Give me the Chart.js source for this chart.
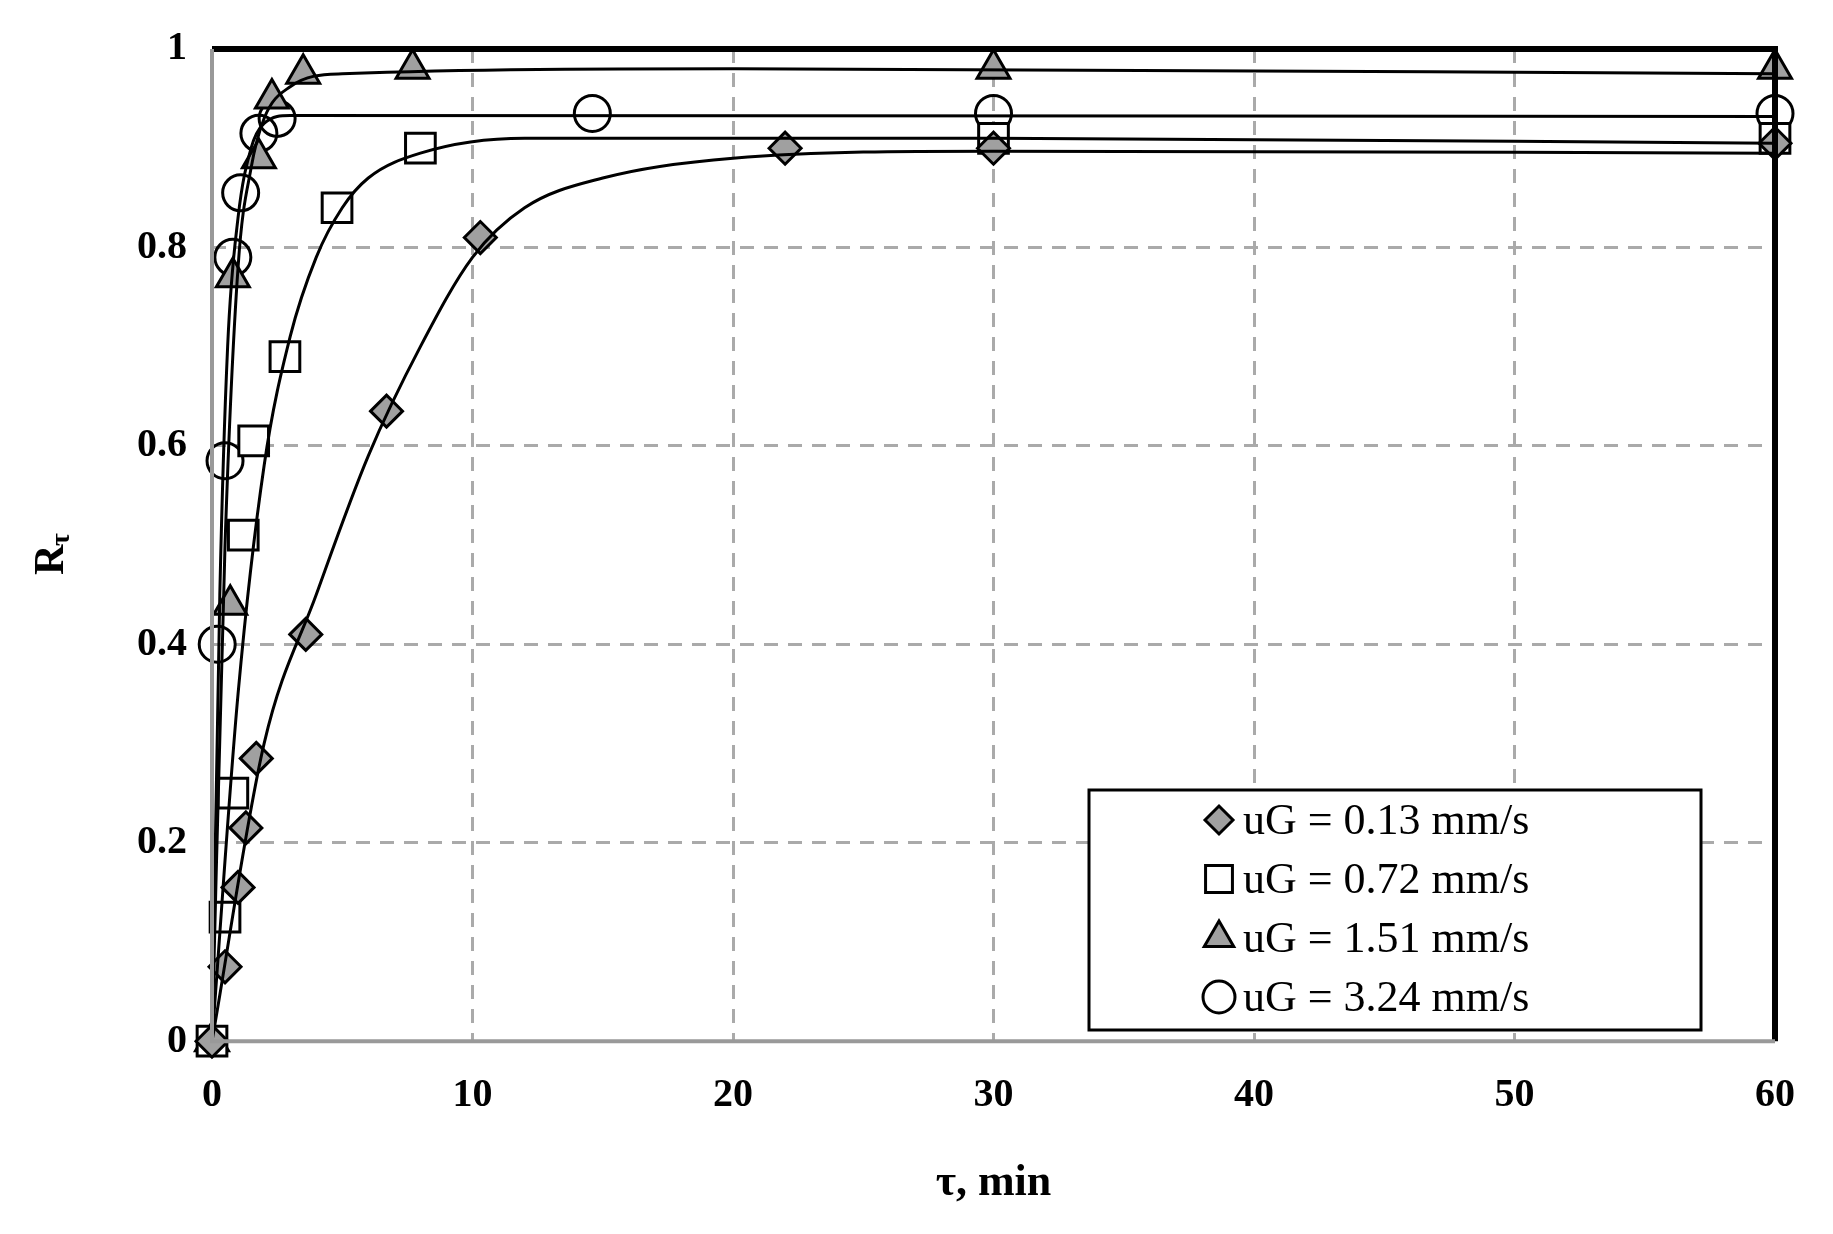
<!DOCTYPE html>
<html><head><meta charset="utf-8">
<script src="https://cdn.jsdelivr.net/npm/chart.js@4.4.1/dist/chart.umd.min.js"></script>
<style>html,body{margin:0;background:#fff}#wrap{width:1833px;height:1234px}</style>
</head><body><div id="wrap"><canvas id="c"></canvas></div>
<script>
const xTicks = [0, 10, 20, 30, 40, 50, 60];
const yTicks = [0, 0.2, 0.4, 0.6, 0.8, 1];
const seriesNames = ['uG = 0.13 mm/s', 'uG = 0.72 mm/s', 'uG = 1.51 mm/s', 'uG = 3.24 mm/s'];

// measured points
const ptsA = [[0,0],[0.5,0.075],[1,0.155],[1.3,0.215],[1.7,0.285],[3.6,0.41],[6.7,0.635],[10.3,0.81],[22,0.9],[30,0.9],[60,0.905]];
const ptsB = [[0,0],[0.5,0.125],[0.8,0.25],[1.2,0.51],[1.6,0.605],[2.8,0.69],[4.8,0.84],[8,0.9],[30,0.91],[60,0.91]];
const ptsC = [[0,0],[0.7,0.44],[0.8,0.77],[1.8,0.89],[2.3,0.95],[3.5,0.975],[7.7,0.98],[30,0.98],[60,0.98]];
const ptsD = [[0.2,0.4],[0.5,0.585],[0.8,0.79],[1.1,0.855],[1.8,0.915],[2.5,0.93],[14.6,0.935],[30,0.935],[60,0.935]];

// fitted curves
const fitA = [[0,0],[2,0.3],[4,0.45],[6,0.59],[8,0.7],[10,0.79],[12,0.84],[15,0.87],[20,0.89],[30,0.897],[60,0.895]];
const fitB = [[0,0],[1,0.35],[2,0.58],[3,0.71],[4,0.79],[5,0.84],[6,0.87],[8,0.895],[12,0.91],[30,0.91],[60,0.905]];
const fitC = [[0,0],[0.5,0.5],[1,0.78],[1.5,0.88],[2,0.93],[3,0.962],[5,0.975],[20,0.98],[60,0.975]];
const fitD = [[0,0],[0.3,0.45],[0.6,0.7],[1,0.83],[1.5,0.9],[2,0.925],[3,0.933],[60,0.932]];

const toXY = a => a.map(([x, y]) => ({x, y}));
const styles = [
  {pointStyle: 'rectRot', radius: 16, bg: '#a0a0a0'},
  {pointStyle: 'rect', radius: 21, bg: '#fff'},
  {pointStyle: 'triangle', radius: 19, bg: '#a0a0a0'},
  {pointStyle: 'circle', radius: 18, bg: 'rgba(255,255,255,0)'}
];
const fits = [fitA, fitB, fitC, fitD];
const pts = [ptsA, ptsB, ptsC, ptsD];

const datasets = [];
fits.forEach(f => datasets.push({data: toXY(f), showLine: true, borderColor: '#000', borderWidth: 3, pointRadius: 0, cubicInterpolationMode: 'monotone', fill: false}));
pts.forEach((p, i) => datasets.push({data: toXY(p), showLine: false, clip: false, pointStyle: styles[i].pointStyle, pointRadius: styles[i].radius,
  pointBackgroundColor: styles[i].bg, pointBorderColor: '#000', pointBorderWidth: 3}));

const frame = {
  id: 'frame',
  afterDraw(chart) {
    const {ctx, chartArea: a} = chart;
    ctx.save();
    ctx.lineWidth = 6; ctx.strokeStyle = '#000';
    ctx.beginPath(); ctx.moveTo(a.left, a.top); ctx.lineTo(a.right, a.top); ctx.lineTo(a.right, a.bottom); ctx.stroke();
    ctx.lineWidth = 4; ctx.strokeStyle = '#999';
    ctx.beginPath(); ctx.moveTo(a.left, a.top); ctx.lineTo(a.left, a.bottom); ctx.lineTo(a.right, a.bottom); ctx.stroke();
    // legend
    const bx = 1089, by = 790, bw = 612, bh = 240;
    ctx.fillStyle = '#fff'; ctx.fillRect(bx, by, bw, bh);
    ctx.lineWidth = 3; ctx.strokeStyle = '#000'; ctx.strokeRect(bx, by, bw, bh);
    ctx.font = '44px "Liberation Serif"'; ctx.textBaseline = 'middle'; ctx.fillStyle = '#000';
    seriesNames.forEach((n, i) => {
      const y = by + 30 + i * 59, x = 1219;
      ctx.lineWidth = 3; ctx.strokeStyle = '#000'; ctx.fillStyle = styles[i].bg;
      Chart.helpers.drawPoint(ctx, {pointStyle: styles[i].pointStyle, radius: styles[i].radius - 2, borderWidth: 3}, x, y);
      ctx.fillStyle = '#000'; ctx.fillText(n, 1243, y + 2);
    });
    // y title
    ctx.translate(52, 555); ctx.rotate(-Math.PI / 2);
    ctx.font = 'bold 42px "Liberation Serif"'; ctx.textAlign = 'left';
    ctx.fillText('R', -20, 0);
    ctx.font = 'bold 28px "Liberation Serif"'; ctx.fillText('τ', 9, 10);
    ctx.restore();
  }
};

new Chart(document.getElementById('c'), {
  type: 'scatter',
  data: {datasets},
  plugins: [frame],
  options: {
    responsive: true, maintainAspectRatio: false, animation: false,
    layout: {padding: {left: 20, right: 58, top: 47, bottom: 20}},
    plugins: {legend: {display: false}, tooltip: {enabled: false}},
    scales: {
      x: {type: 'linear', min: 0, max: 60, afterBuildTicks: s => { s.ticks = xTicks.map(v => ({value: v})); },
        grid: {color: '#aaa', lineWidth: 3, tickLength: 0, drawTicks: false}, border: {display: false, dash: [14, 10]},
        ticks: {color: '#000', padding: 30, font: {family: 'Liberation Serif', size: 40, weight: 'bold'}},
        title: {display: true, text: 'τ, min', color: '#000', padding: {top: 8}, font: {family: 'Liberation Serif', size: 44, weight: 'bold'}}},
      y: {min: 0, max: 1, afterBuildTicks: s => { s.ticks = yTicks.map(v => ({value: v})); },
        grid: {color: '#aaa', lineWidth: 3, drawTicks: false}, border: {display: false, dash: [14, 10]},
        ticks: {color: '#000', padding: 25, font: {family: 'Liberation Serif', size: 40, weight: 'bold'}, callback: v => String(v)},
        title: {display: true, text: ' ', padding: {bottom: 40}, font: {size: 40}}}
    }
  }
});
</script></body></html>
